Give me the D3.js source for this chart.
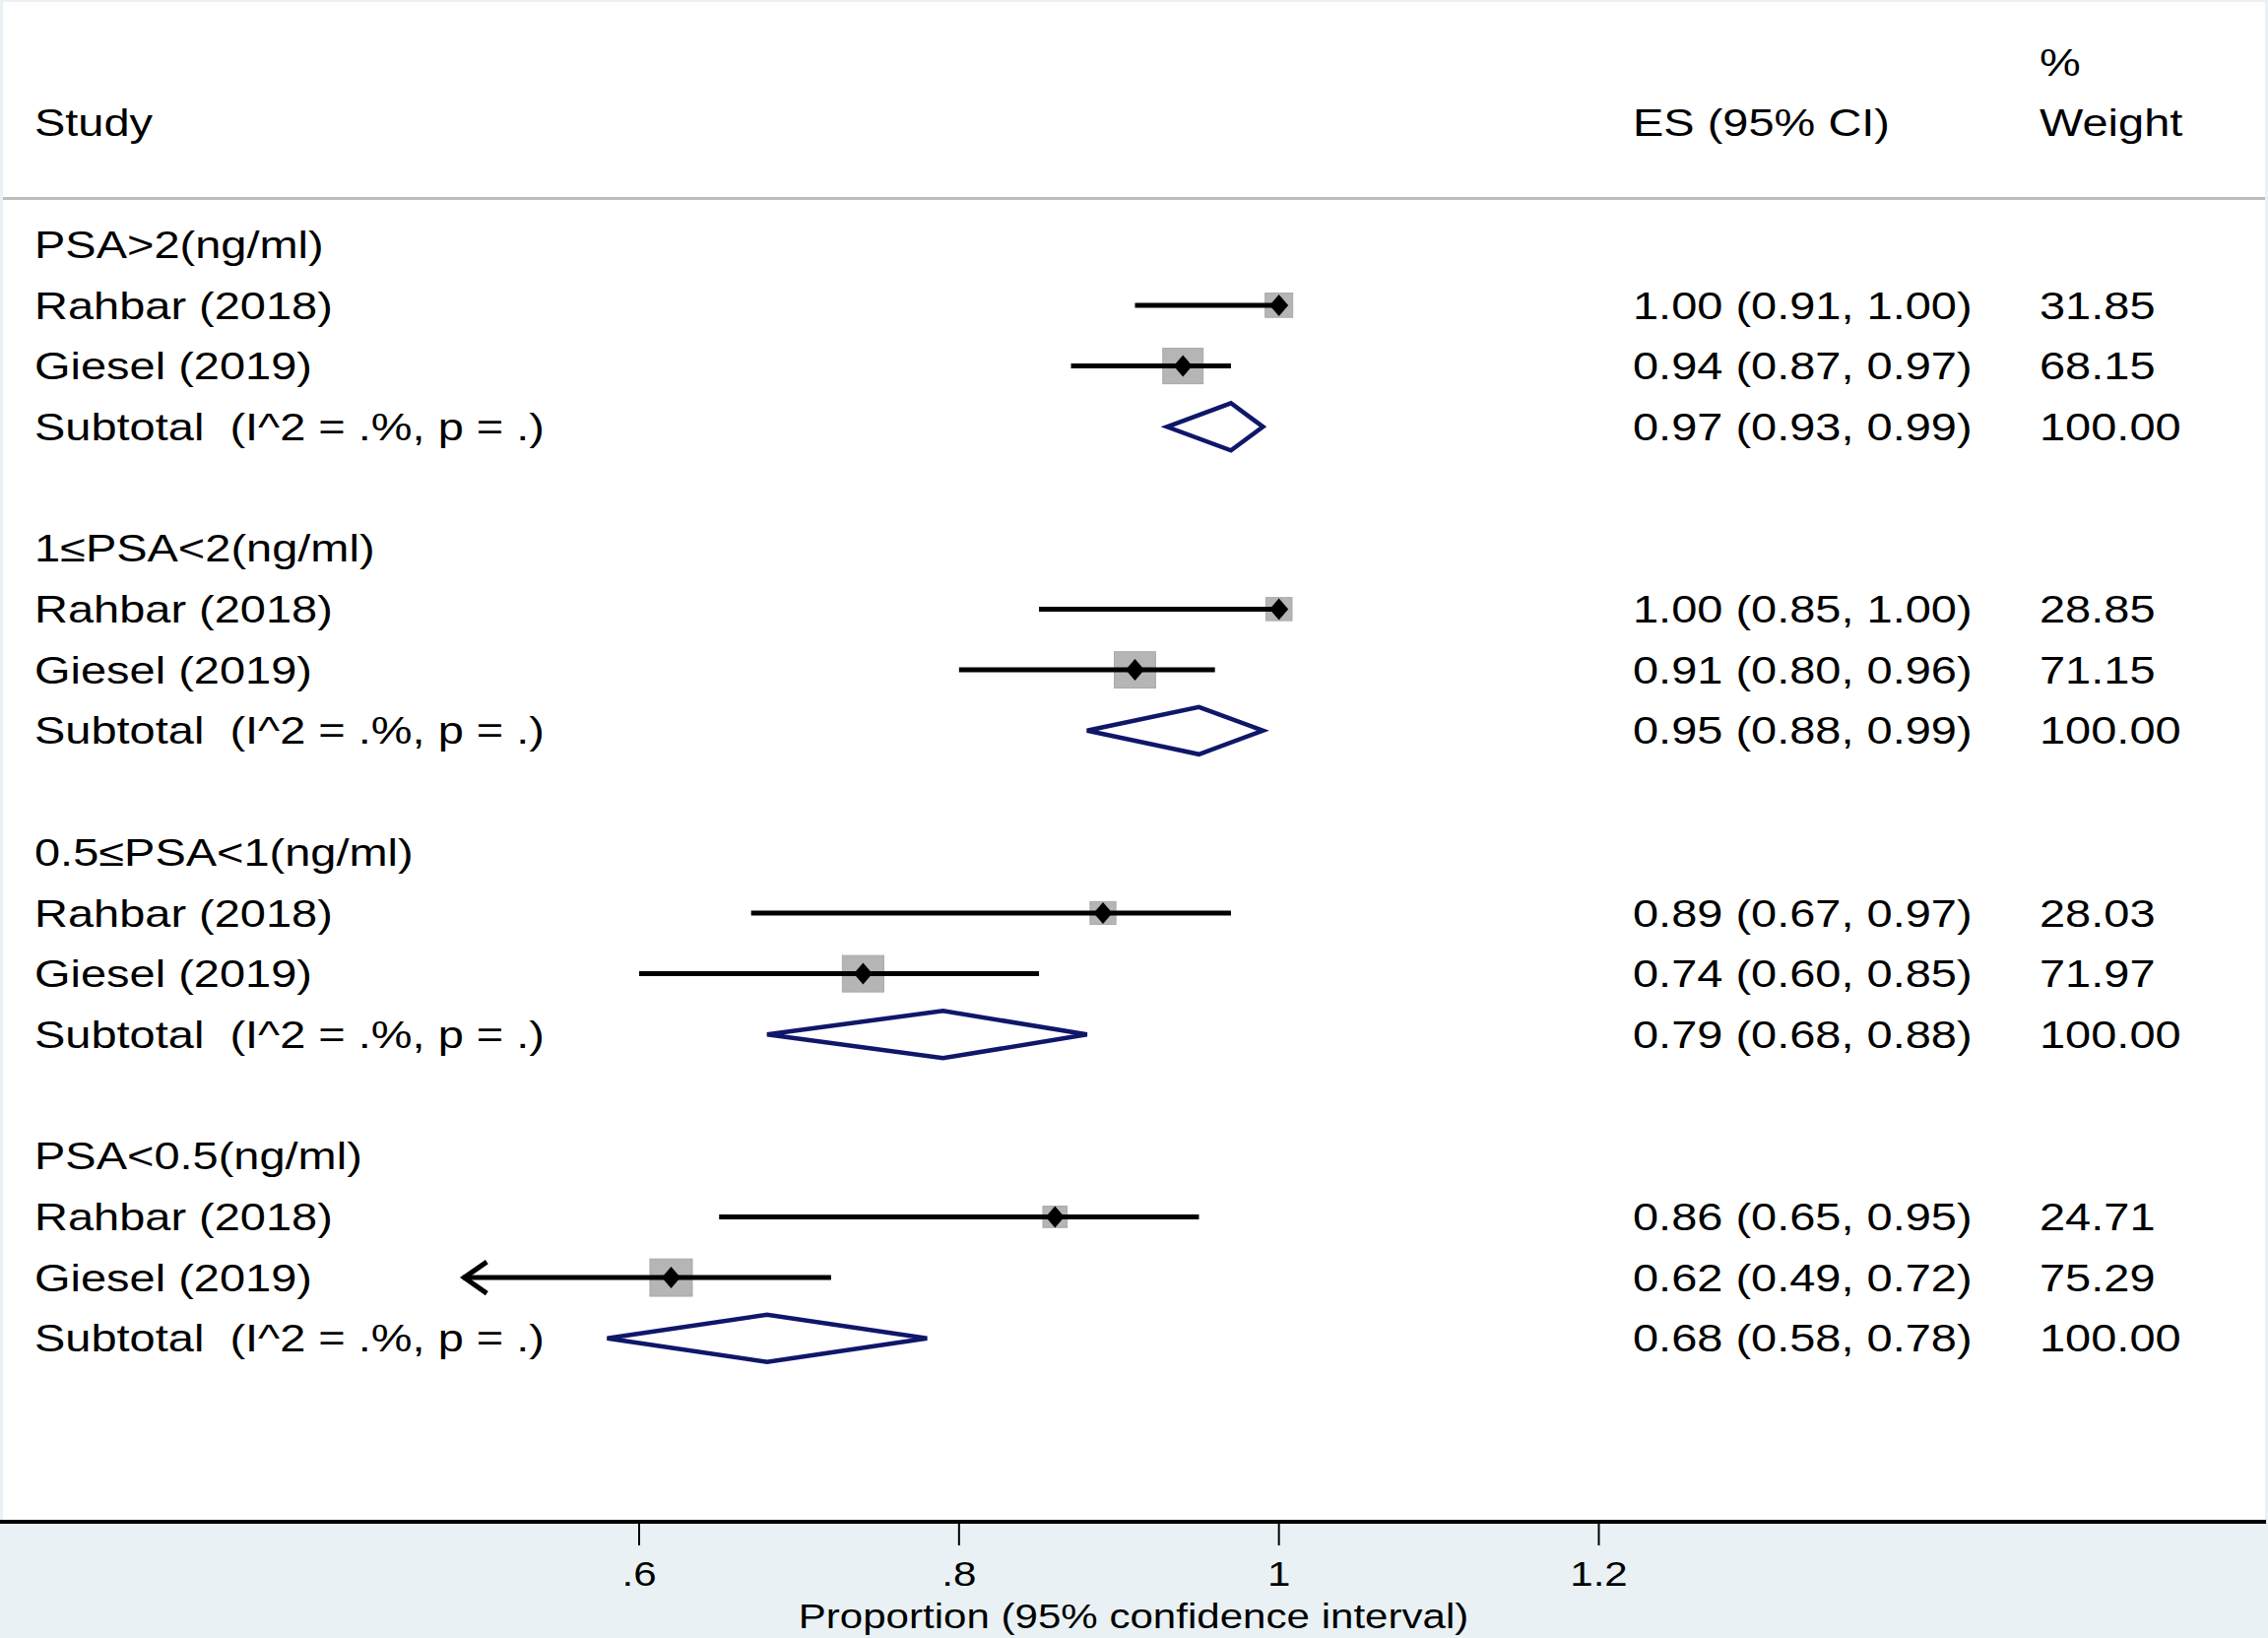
<!DOCTYPE html>
<html>
<head>
<meta charset="utf-8">
<script src="https://cdn.jsdelivr.net/npm/d3@7"></script>
<style>
  body { margin: 0; background: #fff; }
  text { font-family: "Liberation Sans", Arial, sans-serif; fill: #000; white-space: pre; }
</style>
</head>
<body>
<div id="chart"></div>
<script>
// data
var groupLabels = ["PSA>2(ng/ml)", "1≤PSA<2(ng/ml)", "0.5≤PSA<1(ng/ml)", "PSA<0.5(ng/ml)"];
var studyNames = ["Rahbar (2018)", "Giesel (2019)"];
var esValues = [[1.00, 0.94], [1.00, 0.91], [0.89, 0.74], [0.86, 0.62]];
var ciLow = [[0.91, 0.87], [0.85, 0.80], [0.67, 0.60], [0.65, 0.49]];
var ciHigh = [[1.00, 0.97], [1.00, 0.96], [0.97, 0.85], [0.95, 0.72]];
var weights = [[31.85, 68.15], [28.85, 71.15], [28.03, 71.97], [24.71, 75.29]];
var subES = [0.97, 0.95, 0.79, 0.68];
var subLow = [0.93, 0.88, 0.68, 0.58];
var subHigh = [0.99, 0.99, 0.88, 0.78];
var subLabel = "Subtotal  (I^2 = .%, p = .)";
var xTicks = [0.6, 0.8, 1, 1.2];
var axisTitle = "Proportion (95% confidence interval)";
var arrowLimit = 0.5; // CIs below this get an arrow

// svg container
var svgWidth = 2303;
var svgHeight = 1663;
var axisY = 1545;

var svg = d3.select("#chart")
  .append("svg")
  .attr("width", svgWidth)
  .attr("height", svgHeight);

// background: pale outer, white panel
svg.append("rect")
  .attr("width", svgWidth).attr("height", svgHeight)
  .attr("fill", "#e9f1f4");
svg.append("rect")
  .attr("x", 3).attr("y", 2)
  .attr("width", svgWidth - 6).attr("height", axisY - 2)
  .attr("fill", "#fff");

// scales
var x = d3.scaleLinear().domain([0.6, 1.2]).range([649, 1623.5]);
var y = d3.scaleLinear().domain([0, 1]).range([248.2, 309.9]); // row index -> y

var stretch = 1.22;
function label(txt, px, row, size) {
  return svg.append("text")
    .attr("transform", `translate(${px}, ${y(row) + size * 0.355}) scale(${stretch},1)`)
    .attr("font-size", size)
    .text(txt);
}

// header
var fs = 38.5;
label("Study", 35, -2, fs);
label("ES (95% CI)", 1658, -2, fs);
label("%", 2071, -3, fs);
label("Weight", 2071, -2, fs);

svg.append("line")
  .attr("x1", 3).attr("x2", svgWidth - 3)
  .attr("y1", 201.5).attr("y2", 201.5)
  .attr("stroke", "#bdbdbd").attr("stroke-width", 3);

var fmt = d3.format(".2f");

groupLabels.forEach(function(g, gi) {
  var base = gi * 5;
  label(g, 35, base, fs);

  studyNames.forEach(function(name, si) {
    var row = base + 1 + si;
    var cy = y(row);
    var es = esValues[gi][si], lo = ciLow[gi][si], hi = ciHigh[gi][si], w = weights[gi][si];

    label(name, 35, row, fs);
    label(fmt(es) + " (" + fmt(lo) + ", " + fmt(hi) + ")", 1658, row, fs);
    label(fmt(w), 2071, row, fs);

    // weight box
    var bw = 4.96 * Math.sqrt(w);
    var bh = bw * 0.88;
    svg.append("rect")
      .attr("x", x(es) - bw / 2).attr("y", cy - bh / 2)
      .attr("width", bw).attr("height", bh)
      .attr("fill", "#b5b5b5").attr("stroke", "#a9a9a9").attr("stroke-width", 1);

    // CI line
    svg.append("line")
      .attr("x1", x(lo)).attr("x2", x(hi))
      .attr("y1", cy).attr("y2", cy)
      .attr("stroke", "#000").attr("stroke-width", 5);

    if (lo < arrowLimit) {
      svg.append("path")
        .attr("d", `M${x(lo) + 24},${cy - 16} L${x(lo) + 1},${cy} L${x(lo) + 24},${cy + 16}`)
        .attr("fill", "none").attr("stroke", "#000").attr("stroke-width", 5);
    }

    // point estimate
    svg.append("path")
      .attr("d", `M${x(es)},${cy - 11} L${x(es) + 9.5},${cy} L${x(es)},${cy + 11} L${x(es) - 9.5},${cy} Z`)
      .attr("fill", "#000");
  });

  // subtotal
  var srow = base + 3;
  var sy = y(srow);
  label(subLabel, 35, srow, fs);
  label(fmt(subES[gi]) + " (" + fmt(subLow[gi]) + ", " + fmt(subHigh[gi]) + ")", 1658, srow, fs);
  label("100.00", 2071, srow, fs);

  svg.append("path")
    .attr("d", `M${x(subLow[gi])},${sy} L${x(subES[gi])},${sy - 24} L${x(subHigh[gi])},${sy} L${x(subES[gi])},${sy + 24} Z`)
    .attr("fill", "none").attr("stroke", "#0f176a").attr("stroke-width", 4.5);
});

// x axis
svg.append("line")
  .attr("x1", 0).attr("x2", svgWidth - 2)
  .attr("y1", axisY).attr("y2", axisY)
  .attr("stroke", "#000").attr("stroke-width", 4);

var bottomAxis = d3.axisBottom(x)
  .tickValues(xTicks)
  .tickSize(0)
  .tickFormat(function(d) { return d === 1 ? "1" : d3.format(".1f")(d).replace(/^0/, ""); });

var axisG = svg.append("g").attr("transform", `translate(0, ${axisY + 2})`);
axisG.selectAll(".tk").data(xTicks).enter()
  .append("line")
  .attr("x1", d => x(d)).attr("x2", d => x(d))
  .attr("y1", 0).attr("y2", 22)
  .attr("stroke", "#000").attr("stroke-width", 2);

axisG.selectAll(".lbl").data(xTicks).enter()
  .append("text")
  .attr("transform", d => `translate(${x(d)}, 63) scale(${stretch},1)`)
  .attr("text-anchor", "middle")
  .attr("font-size", 34.5)
  .text(d => bottomAxis.tickFormat()(d));

svg.append("text")
  .attr("transform", `translate(1151, 1653) scale(${stretch},1)`)
  .attr("text-anchor", "middle")
  .attr("font-size", 34.5)
  .text(axisTitle);
</script>
</body>
</html>
